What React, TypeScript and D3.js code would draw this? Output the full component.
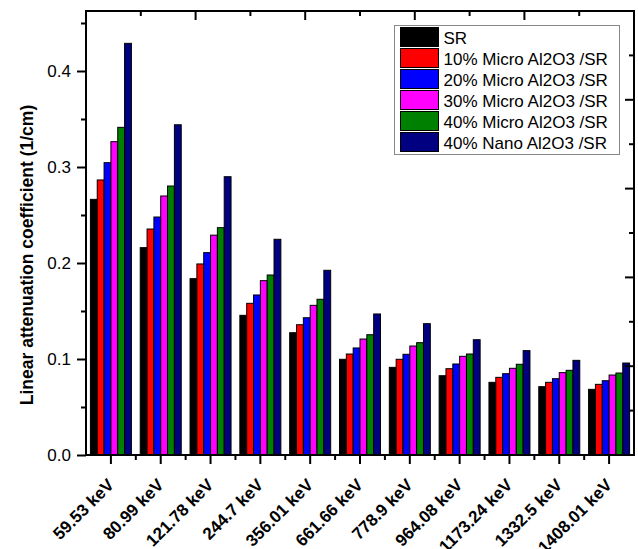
import { useEffect, useRef } from 'react';
import * as d3 from 'd3';

const energies = ['59.53 keV', '80.99 keV', '121.78 keV', '244.7 keV', '356.01 keV', '661.66 keV', '778.9 keV', '964.08 keV', '1173.24 keV', '1332.5 keV', '1408.01 keV'];
const seriesNames = ['SR', '10% Micro Al2O3 /SR', '20% Micro Al2O3 /SR', '30% Micro Al2O3 /SR', '40% Micro Al2O3 /SR', '40% Nano Al2O3 /SR'];
const seriesColors = ['#000000', '#ff0000', '#0000ff', '#ff00ff', '#008000', '#000080'];

const sr = [0.2663, 0.216, 0.1837, 0.1455, 0.1274, 0.0997, 0.0913, 0.0826, 0.0757, 0.0712, 0.0684];
const micro10 = [0.2865, 0.2354, 0.199, 0.158, 0.1357, 0.1052, 0.0997, 0.0899, 0.0809, 0.0757, 0.0736];
const micro20 = [0.3045, 0.2479, 0.2108, 0.1667, 0.143, 0.1115, 0.1049, 0.0948, 0.0847, 0.0795, 0.0774];
const micro30 = [0.3264, 0.2698, 0.229, 0.1816, 0.1559, 0.1208, 0.1135, 0.1028, 0.0903, 0.0858, 0.0833];
const micro40 = [0.3413, 0.2802, 0.2368, 0.1875, 0.1622, 0.1253, 0.117, 0.1052, 0.0945, 0.0882, 0.0854];
const nano40 = [0.4288, 0.344, 0.2899, 0.2247, 0.1924, 0.1469, 0.1368, 0.1201, 0.1087, 0.0986, 0.0958];

const yTicks = [0, 0.1, 0.2, 0.3, 0.4];
const yMinorTicks = [0.05, 0.15, 0.25, 0.35, 0.45];

const font = 'Arial, "Liberation Sans", sans-serif';

const Chart = () => {
  const svgRef = useRef<SVGSVGElement>(null);

  useEffect(() => {
    const W = 638, H = 549;
    const margin = { top: 11, right: 4, bottom: 94, left: 86 };
    const x0Left = margin.left, x0Right = W - margin.right;
    const yTop = margin.top, yBottom = H - margin.bottom;

    const svg = d3.select(svgRef.current)
      .attr('width', W)
      .attr('height', H);
    svg.selectAll('*').remove();

    const allSeries = [sr, micro10, micro20, micro30, micro40, nano40];

    const x0 = d3.scaleBand<string>()
      .domain(energies)
      .range([x0Left, x0Right])
      .padding(0);

    const inner = x0.bandwidth() * 0.823;
    const x1 = d3.scaleBand<string>()
      .domain(seriesNames)
      .range([0, inner])
      .padding(0);
    const offset = (x0.bandwidth() - inner) / 2;

    const y = d3.scaleLinear()
      .domain([0, 0.4625])
      .range([yBottom, yTop]);

    // top / right axes in Origin have their own 10 divisions
    const xTop = d3.scaleLinear().domain([0, 10]).range([x0Left, x0Right]);
    const yRight = d3.scaleLinear().domain([0, 1]).range([yBottom, yTop]);

    // bars
    const groups = svg.append('g')
      .selectAll('g')
      .data(energies)
      .enter().append('g')
      .attr('transform', d => `translate(${x0(d)! + offset},0)`);

    groups.selectAll('rect')
      .data((_, i) => allSeries.map((s, j) => ({ name: seriesNames[j], value: s[i], color: seriesColors[j] })))
      .enter().append('rect')
      .attr('x', d => x1(d.name)!)
      .attr('y', d => y(d.value))
      .attr('width', x1.bandwidth())
      .attr('height', d => y(0) - y(d.value))
      .attr('fill', d => d.color)
      .attr('stroke', '#000')
      .attr('stroke-width', 1);

    // frame
    svg.append('rect')
      .attr('x', x0Left)
      .attr('y', yTop)
      .attr('width', x0Right - x0Left)
      .attr('height', yBottom - yTop)
      .attr('fill', 'none')
      .attr('stroke', '#000')
      .attr('stroke-width', 2);

    // left axis
    const left = svg.append('g')
      .attr('transform', `translate(${x0Left},0)`)
      .call(d3.axisLeft(y).tickValues(yTicks).tickSize(9).tickPadding(6).tickFormat(d3.format('.1f')));
    left.select('.domain').remove();
    left.selectAll('line').attr('stroke-width', 2);
    left.selectAll('text').attr('font-family', font).attr('font-size', 17).attr('fill', '#000');

    const leftMinor = svg.append('g')
      .attr('transform', `translate(${x0Left},0)`)
      .call(d3.axisLeft(y).tickValues(yMinorTicks).tickSize(5).tickFormat(() => ''));
    leftMinor.select('.domain').remove();
    leftMinor.selectAll('line').attr('stroke-width', 2);

    // bottom axis
    const bottom = svg.append('g')
      .attr('transform', `translate(0,${yBottom})`)
      .call(d3.axisBottom(x0).tickSize(9).tickFormat(() => ''));
    bottom.select('.domain').remove();
    bottom.selectAll('line').attr('stroke-width', 2);

    svg.append('g')
      .selectAll('line')
      .data(energies.slice(1))
      .enter().append('line')
      .attr('x1', d => x0(d)!)
      .attr('x2', d => x0(d)!)
      .attr('y1', yBottom)
      .attr('y2', yBottom + 5)
      .attr('stroke', '#000')
      .attr('stroke-width', 2);

    svg.append('g')
      .selectAll('text')
      .data(energies)
      .enter().append('text')
      .attr('transform', d => `translate(${x0(d)! + x0.bandwidth() / 2 + 4},${yBottom + 31}) rotate(-45)`)
      .attr('text-anchor', 'end')
      .attr('font-family', font)
      .attr('font-size', 17)
      .attr('font-weight', 'bold')
      .text(d => d);

    // top axis ticks (inward)
    svg.append('g')
      .selectAll('line')
      .data(d3.range(1, 10))
      .enter().append('line')
      .attr('x1', d => xTop(d))
      .attr('x2', d => xTop(d))
      .attr('y1', yTop)
      .attr('y2', d => yTop + (d % 2 === 0 ? 9 : 5))
      .attr('stroke', '#000')
      .attr('stroke-width', 2);

    // right axis ticks (inward)
    svg.append('g')
      .selectAll('line')
      .data(d3.range(1, 10).map(d => d / 10))
      .enter().append('line')
      .attr('x1', x0Right)
      .attr('x2', (d, i) => x0Right - ((i + 1) % 2 === 0 ? 9 : 5))
      .attr('y1', d => yRight(d))
      .attr('y2', d => yRight(d))
      .attr('stroke', '#000')
      .attr('stroke-width', 2);

    // y title
    svg.append('text')
      .attr('transform', `translate(33,${(yTop + yBottom) / 2 + 22}) rotate(-90)`)
      .attr('text-anchor', 'middle')
      .attr('font-family', font)
      .attr('font-size', 17.5)
      .attr('font-weight', 'bold')
      .text('Linear attenuation coefficient (1/cm)');

    // legend
    const legend = svg.append('g').attr('transform', 'translate(394.5,25.5)');
    legend.append('rect')
      .attr('width', 225)
      .attr('height', 129)
      .attr('fill', '#fff')
      .attr('stroke', '#888')
      .attr('stroke-width', 1);

    const rows = legend.selectAll('.row')
      .data(seriesNames)
      .enter().append('g')
      .attr('class', 'row')
      .attr('transform', (_, i) => `translate(0,${2 + i * 21})`);

    rows.append('rect')
      .attr('x', 6)
      .attr('width', 38)
      .attr('height', 19)
      .attr('fill', (_, i) => seriesColors[i])
      .attr('stroke', '#000')
      .attr('stroke-width', 1);

    rows.append('text')
      .attr('x', 49)
      .attr('y', 16)
      .attr('font-family', font)
      .attr('font-size', 17)
      .attr('fill', '#000')
      .text(d => d);
  }, []);

  return <svg ref={svgRef} style={{ position: 'absolute', left: 0, top: 0 }} />;
};

export default function App() {
  return (
    <div>
      <Chart />
    </div>
  );
}
